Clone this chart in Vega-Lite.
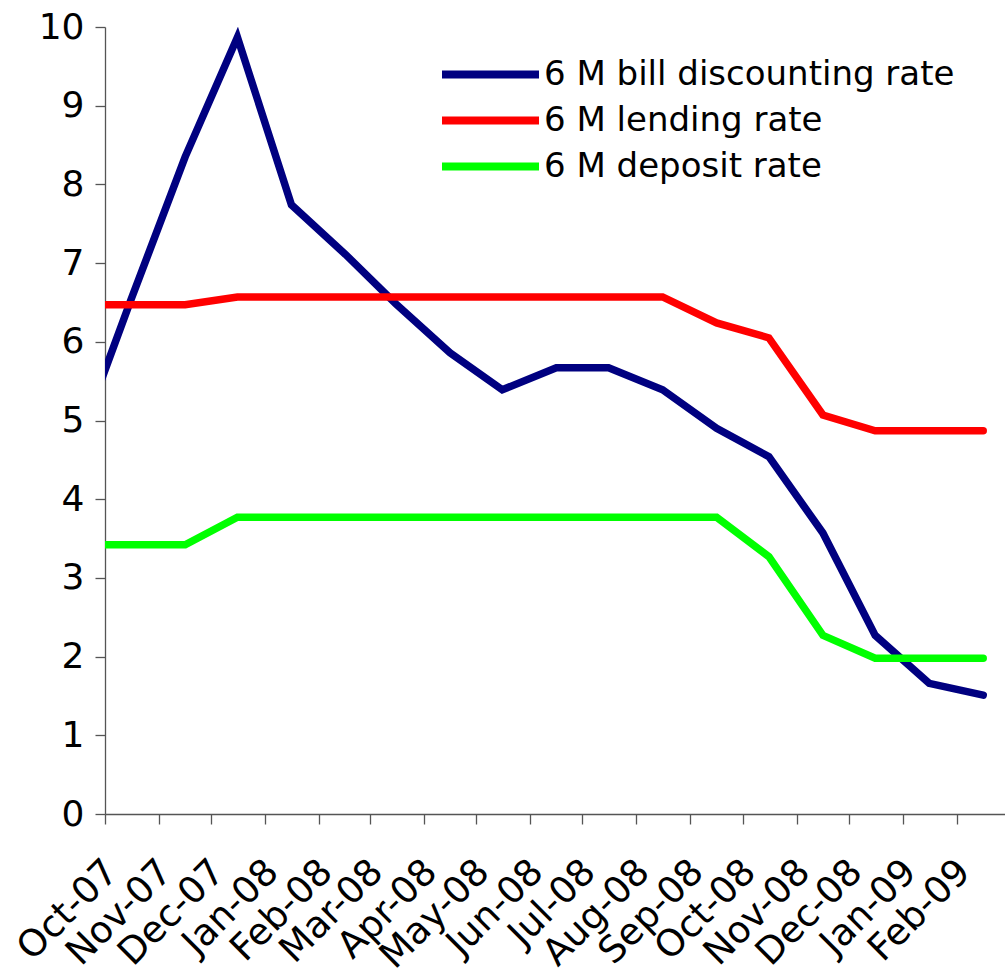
{
  "$schema": "https://vega.github.io/schema/vega-lite/v6.json",
  "width": 900,
  "height": 787,
  "autosize": {"type": "none"},
  "padding": {"left": 105, "top": 27, "right": 0, "bottom": 163},
  "background": "white",
  "config": {
    "view": {"stroke": null},
    "font": "DejaVu Sans",
    "axis": {
      "grid": false,
      "domainColor": "#555555",
      "domainWidth": 1.3,
      "tickColor": "#555555",
      "tickWidth": 1.3,
      "tickSize": 10,
      "labelColor": "black",
      "labelFont": "DejaVu Sans",
      "title": null
    }
  },
  "data": {
    "values": [
      {"date": "2007-09-16", "series": "6 M bill discounting rate", "rate": 4.74},
      {"date": "2007-10-16", "series": "6 M bill discounting rate", "rate": 6.54},
      {"date": "2007-11-16", "series": "6 M bill discounting rate", "rate": 8.35},
      {"date": "2007-12-16", "series": "6 M bill discounting rate", "rate": 9.87},
      {"date": "2008-01-16", "series": "6 M bill discounting rate", "rate": 7.74},
      {"date": "2008-02-16", "series": "6 M bill discounting rate", "rate": 7.11},
      {"date": "2008-03-16", "series": "6 M bill discounting rate", "rate": 6.48},
      {"date": "2008-04-16", "series": "6 M bill discounting rate", "rate": 5.86},
      {"date": "2008-05-16", "series": "6 M bill discounting rate", "rate": 5.39},
      {"date": "2008-06-16", "series": "6 M bill discounting rate", "rate": 5.67},
      {"date": "2008-07-16", "series": "6 M bill discounting rate", "rate": 5.67},
      {"date": "2008-08-16", "series": "6 M bill discounting rate", "rate": 5.39},
      {"date": "2008-09-16", "series": "6 M bill discounting rate", "rate": 4.90},
      {"date": "2008-10-16", "series": "6 M bill discounting rate", "rate": 4.54},
      {"date": "2008-11-16", "series": "6 M bill discounting rate", "rate": 3.57},
      {"date": "2008-12-16", "series": "6 M bill discounting rate", "rate": 2.27},
      {"date": "2009-01-16", "series": "6 M bill discounting rate", "rate": 1.66},
      {"date": "2009-02-16", "series": "6 M bill discounting rate", "rate": 1.51},
      {"date": "2007-09-16", "series": "6 M lending rate", "rate": 6.47},
      {"date": "2007-10-16", "series": "6 M lending rate", "rate": 6.47},
      {"date": "2007-11-16", "series": "6 M lending rate", "rate": 6.47},
      {"date": "2007-12-16", "series": "6 M lending rate", "rate": 6.57},
      {"date": "2008-01-16", "series": "6 M lending rate", "rate": 6.57},
      {"date": "2008-02-16", "series": "6 M lending rate", "rate": 6.57},
      {"date": "2008-03-16", "series": "6 M lending rate", "rate": 6.57},
      {"date": "2008-04-16", "series": "6 M lending rate", "rate": 6.57},
      {"date": "2008-05-16", "series": "6 M lending rate", "rate": 6.57},
      {"date": "2008-06-16", "series": "6 M lending rate", "rate": 6.57},
      {"date": "2008-07-16", "series": "6 M lending rate", "rate": 6.57},
      {"date": "2008-08-16", "series": "6 M lending rate", "rate": 6.57},
      {"date": "2008-09-16", "series": "6 M lending rate", "rate": 6.24},
      {"date": "2008-10-16", "series": "6 M lending rate", "rate": 6.05},
      {"date": "2008-11-16", "series": "6 M lending rate", "rate": 5.07},
      {"date": "2008-12-16", "series": "6 M lending rate", "rate": 4.87},
      {"date": "2009-01-16", "series": "6 M lending rate", "rate": 4.87},
      {"date": "2009-02-16", "series": "6 M lending rate", "rate": 4.87},
      {"date": "2007-09-16", "series": "6 M deposit rate", "rate": 3.42},
      {"date": "2007-10-16", "series": "6 M deposit rate", "rate": 3.42},
      {"date": "2007-11-16", "series": "6 M deposit rate", "rate": 3.42},
      {"date": "2007-12-16", "series": "6 M deposit rate", "rate": 3.77},
      {"date": "2008-01-16", "series": "6 M deposit rate", "rate": 3.77},
      {"date": "2008-02-16", "series": "6 M deposit rate", "rate": 3.77},
      {"date": "2008-03-16", "series": "6 M deposit rate", "rate": 3.77},
      {"date": "2008-04-16", "series": "6 M deposit rate", "rate": 3.77},
      {"date": "2008-05-16", "series": "6 M deposit rate", "rate": 3.77},
      {"date": "2008-06-16", "series": "6 M deposit rate", "rate": 3.77},
      {"date": "2008-07-16", "series": "6 M deposit rate", "rate": 3.77},
      {"date": "2008-08-16", "series": "6 M deposit rate", "rate": 3.77},
      {"date": "2008-09-16", "series": "6 M deposit rate", "rate": 3.77},
      {"date": "2008-10-16", "series": "6 M deposit rate", "rate": 3.27},
      {"date": "2008-11-16", "series": "6 M deposit rate", "rate": 2.27},
      {"date": "2008-12-16", "series": "6 M deposit rate", "rate": 1.98},
      {"date": "2009-01-16", "series": "6 M deposit rate", "rate": 1.98},
      {"date": "2009-02-16", "series": "6 M deposit rate", "rate": 1.98}
    ]
  },
  "mark": {"type": "line", "strokeWidth": 7.5, "strokeCap": "round", "strokeJoin": "miter", "clip": true},
  "encoding": {
    "x": {
      "field": "date",
      "type": "temporal",
      "scale": {
        "type": "utc",
        "nice": false,
        "domain": [
          {"year": 2007, "month": 10, "date": 1, "utc": true},
          {"year": 2009, "month": 2, "date": 28, "hours": 12, "utc": true}
        ]
      },
      "axis": {
        "format": "%b-%y",
        "tickCount": {"interval": "month", "step": 1},
        "labelAngle": -45,
        "labelAlign": "right",
        "labelBaseline": "top",
        "labelFontSize": 37,
        "labelPadding": 29,
        "labelOffset": -6,
        "labelOverlap": false,
        "labelFlush": false,
        "labelBound": false
      }
    },
    "y": {
      "field": "rate",
      "type": "quantitative",
      "scale": {"domain": [0, 10], "nice": false},
      "axis": {
        "values": [0, 1, 2, 3, 4, 5, 6, 7, 8, 9, 10],
        "labelFontSize": 36,
        "labelPadding": 11,
        "labelOverlap": false,
        "labelFlush": false,
        "labelBound": false
      }
    },
    "color": {
      "field": "series",
      "type": "nominal",
      "sort": null,
      "scale": {
        "domain": ["6 M bill discounting rate", "6 M lending rate", "6 M deposit rate"],
        "range": ["#000080", "#FF0000", "#00FF00"]
      },
      "legend": {
        "orient": "none",
        "legendX": 333,
        "legendY": 26,
        "title": null,
        "padding": 0,
        "symbolType": "stroke",
        "symbolSize": 9409,
        "symbolStrokeWidth": 8,
        "labelFont": "DejaVu Sans",
        "labelFontSize": 34,
        "labelColor": "black",
        "labelOffset": 1,
        "labelLimit": 600,
        "clipHeight": 43,
        "rowPadding": 3
      }
    }
  }
}
